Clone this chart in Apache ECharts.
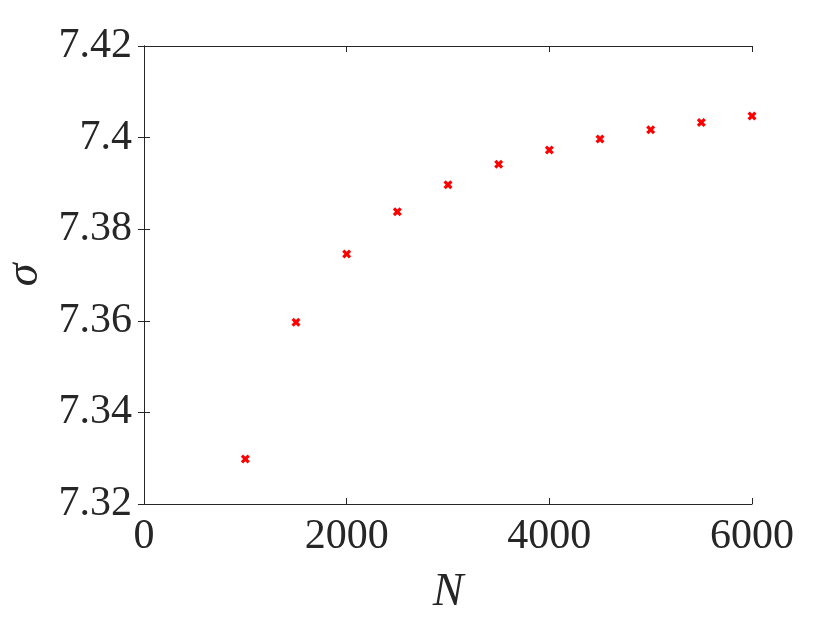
<!DOCTYPE html>
<html><head><meta charset="utf-8">
<script src="https://cdn.jsdelivr.net/npm/echarts@6/dist/echarts.min.js"></script>
<style>html,body{margin:0;padding:0;background:#fff}#c{width:830px;height:623px}</style>
</head><body><div id="c"></div>
<script>
const N = [1000,1500,2000,2500,3000,3500,4000,4500,5000,5500,6000];
const sigma = [7.3298,7.3597,7.3746,7.3838,7.3897,7.3942,7.3973,7.3997,7.4017,7.4033,7.4047];
const xTicks = [0,2000,4000,6000];
const yTicks = [7.32,7.34,7.36,7.38,7.40,7.42];
const xLabel = 'N';
const yLabel = 'σ';

const font = 'Liberation Serif';
const axisColor = '#262626';
const chart = echarts.init(document.getElementById('c'), null, {renderer:'canvas'});
const yFmt = v => (+v.toFixed(2)).toString();
const xFmt = v => String(Math.round(v));
chart.setOption({
  animation:false,
  grid:{left:144,right:78,top:46,bottom:119,containLabel:false,outerBoundsMode:'none'},
  xAxis:[{
    type:'value',min:xTicks[0],max:xTicks[xTicks.length-1],interval:2000,
    name:xLabel,nameLocation:'middle',nameGap:66,
    nameTextStyle:{fontFamily:font,fontStyle:'italic',fontSize:46,color:axisColor},
    axisLine:{show:true,lineStyle:{color:axisColor,width:1}},
    axisTick:{show:true,inside:true,length:6,lineStyle:{color:axisColor}},
    axisLabel:{fontFamily:font,fontSize:42,color:axisColor,margin:12,formatter:xFmt},
    splitLine:{show:false}
  },{
    type:'value',position:'top',min:0,max:6000,interval:2000,
    axisLine:{show:true,lineStyle:{color:axisColor,width:1}},
    axisTick:{show:true,inside:true,length:6,lineStyle:{color:axisColor}},
    axisLabel:{show:false},splitLine:{show:false}
  }],
  yAxis:[{
    type:'value',min:yTicks[0],max:yTicks[yTicks.length-1],interval:0.02,
    name:yLabel,nameLocation:'middle',nameGap:96,nameRotate:90,
    nameTextStyle:{fontFamily:font,fontStyle:'italic',fontSize:46,color:axisColor},
    axisLine:{show:true,lineStyle:{color:axisColor,width:1}},
    axisTick:{show:true,inside:true,length:6,lineStyle:{color:axisColor}},
    axisLabel:{fontFamily:font,fontSize:42,color:axisColor,margin:12,formatter:yFmt},
    splitLine:{show:false}
  },{
    type:'value',position:'right',min:7.32,max:7.42,interval:0.02,
    axisLine:{show:true,lineStyle:{color:axisColor,width:1}},
    axisTick:{show:true,inside:true,length:6,lineStyle:{color:axisColor}},
    axisLabel:{show:false},splitLine:{show:false}
  }],
  series:[{
    type:'scatter',xAxisIndex:0,yAxisIndex:0,
    data:N.map((n,i)=>[n,sigma[i]]),
    symbol:'path://M0,2.5 L2.5,0 L5,2.5 L7.5,0 L10,2.5 L7.5,5 L10,7.5 L7.5,10 L5,7.5 L2.5,10 L0,7.5 L2.5,5 Z',
    symbolSize:9,
    itemStyle:{color:'#ff0000',opacity:1}
  }]
});
</script></body></html>
